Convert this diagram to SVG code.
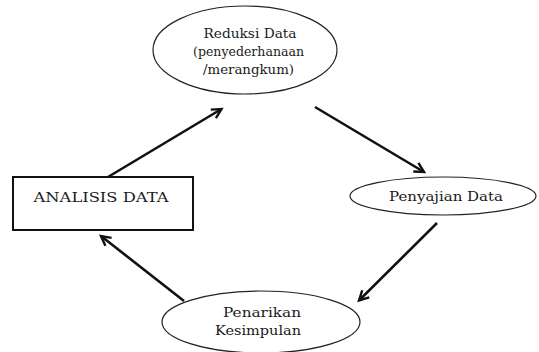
<svg xmlns="http://www.w3.org/2000/svg" width="539" height="352" viewBox="0 0 539 352">
<defs>
<style>
.node-e{fill:#fff;stroke:#222;stroke-width:1.2}
.node-r{fill:#fff;stroke:#111;stroke-width:2}
.lbl{font-family:"DejaVu Serif","Liberation Serif",serif;font-size:12px;fill:#1a1a1a;text-anchor:middle}
.conn{stroke:#111;stroke-width:2.6;fill:none;marker-end:url(#ah)}
</style>
<marker id="ah" markerUnits="userSpaceOnUse" markerWidth="14" markerHeight="14" refX="11" refY="6" orient="auto" viewBox="0 0 14 12">
<path d="M1.5,1 L11,6 L1.5,11" fill="none" stroke="#111" stroke-width="2.4" stroke-linejoin="miter"/>
</marker>
</defs>
<rect width="539" height="352" fill="#fff"/>
<g id="connectors">
<line class="conn" x1="108" y1="177" x2="221.5" y2="109"/>
<line class="conn" x1="315" y1="107" x2="424" y2="172"/>
<line class="conn" x1="437" y1="223" x2="359" y2="300.5"/>
<line class="conn" x1="184" y1="301" x2="101" y2="236"/>
</g>
<g id="reduksi">
<ellipse class="node-e" cx="245" cy="50" rx="92" ry="44"/>
<text class="lbl" x="250" y="38" textLength="93" lengthAdjust="spacingAndGlyphs">Reduksi Data</text>
<text class="lbl" x="248.5" y="56" textLength="111" lengthAdjust="spacingAndGlyphs">(penyederhanaan</text>
<text class="lbl" x="248.5" y="74" textLength="91" lengthAdjust="spacingAndGlyphs">/merangkum)</text>
</g>
<g id="penyajian">
<ellipse class="node-e" cx="443" cy="196" rx="93" ry="19"/>
<text class="lbl" x="446" y="201" textLength="114" lengthAdjust="spacingAndGlyphs">Penyajian Data</text>
</g>
<g id="penarikan">
<ellipse class="node-e" cx="261" cy="322" rx="99" ry="31"/>
<text class="lbl" x="262" y="317" textLength="78" lengthAdjust="spacingAndGlyphs">Penarikan</text>
<text class="lbl" x="258" y="335" textLength="86" lengthAdjust="spacingAndGlyphs">Kesimpulan</text>
</g>
<g id="analisis">
<rect class="node-r" x="13" y="177" width="180" height="53"/>
<text class="lbl" x="101" y="202" font-size="12.5" textLength="135" lengthAdjust="spacingAndGlyphs">ANALISIS DATA</text>
</g>
</svg>
